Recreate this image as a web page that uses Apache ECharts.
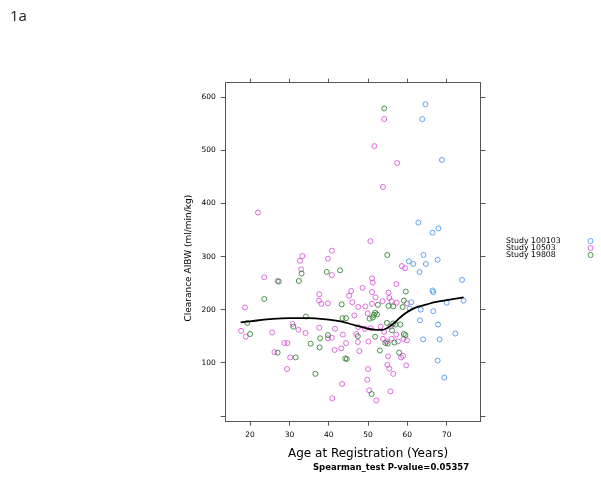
<!DOCTYPE html>
<html><head><meta charset="utf-8">
<script src="https://cdn.jsdelivr.net/npm/echarts@6/dist/echarts.min.js"></script>
<style>html,body{margin:0;padding:0;background:#fff}#c{width:601px;height:481px}</style>
</head><body><div id="c"></div>
<script>
// ---- data ----
const xTicks = [20, 30, 40, 50, 60, 70];
const yTicks = [0, 100, 200, 300, 400, 500, 600];
const yTickLabels = ['', '100', '200', '300', '400', '500', '600'];
const studyNames = ['Study 100103', 'Study 10503', 'Study 19808'];
const studyColors = ['#3b8ff0', '#d848d8', '#1f7a1f'];

// [age, clearance]
const study100103 = [
  [64.6,587],[63.8,559],[68.8,482],[62.8,364],[66.4,345],[67.9,353],[64.1,303],[60.4,291],
  [61.5,286],[64.7,286],[67.7,294],[63.1,271],[73.9,256],[66.4,236],[66.6,233],[61.0,214],
  [70.0,213],[74.3,217],[60.6,202],[63.4,200],[66.6,197],[63.2,180],[67.8,172],[72.2,155],
  [64.0,144],[68.2,144],[67.7,104],[69.4,72]
];
const study10503 = [
  [54.1,559],[51.6,508],[57.4,476],[53.8,431],[22.0,383],
  [50.6,329],[40.8,311],[33.3,301],[32.7,292],[39.8,296],[33.0,276],[23.6,261],[27.0,254],
  [58.6,282],[59.4,278],[40.8,265],[51.0,259],[51.2,251],[57.2,248],[48.6,241],[45.7,235],
  [51.0,233],[55.2,232],[37.6,229],[45.2,226],[51.9,223],[55.4,222],[37.5,217],[53.7,216],
  [56.0,216],[46.0,214],[39.8,212],[38.1,211],[51.0,211],[57.3,213],[59.9,212],[18.7,204],
  [47.5,205],[49.3,206],
  [49.9,193],[46.5,189],[41.6,164],[47.5,167],[49.2,164],[50.7,165],[53.2,168],[55.7,168],
  [54.1,158],[57.2,153],[43.6,153],[47.0,154],[40.8,147],[53.8,145],[54.7,140],[56.0,145],
  [57.6,140],[59.0,145],[59.9,142],[44.4,137],[47.4,139],[50.1,140],[41.5,124],[43.2,127],
  [47.8,122],[55.1,112],[58.4,110],[58.9,113],[54.9,96],[55.4,89],[59.7,95],[50.0,88],
  [56.4,79],[55.7,46],[52.1,29],[49.8,68],[43.4,60],[40.9,33],[50.3,48],
  [17.7,160],[18.9,149],[25.6,157],[26.2,120],[28.7,137],[29.5,137],[30.2,110],[29.4,88],
  [30.8,173],[32.3,162],[34.1,156],[37.6,166],[39.8,146]
];
const study19808 = [
  [54.1,579],[54.9,303],[42.9,274],[39.5,271],[33.1,268],[27.3,253],[32.4,254],[23.6,220],
  [59.6,234],[59.1,217],[43.3,210],[52.5,209],[55.2,207],[56.4,206],[58.8,205],[51.8,194],
  [51.5,190],[52.3,191],[43.5,184],[44.4,184],[50.4,183],[51.2,185],[54.8,175],[56.4,174],
  [57.0,172],[58.2,172],[56.1,161],[59.1,154],[59.5,152],[47.4,150],[51.8,149],[54.4,137],
  [55.0,136],[56.7,138],[53.0,123],[57.9,119],[44.2,108],[44.6,107],[50.9,41],[19.3,175],
  [20.0,154],[27.0,119],[31.6,110],[31.0,168],[34.2,187],[35.4,136],[37.8,146],[37.7,129],
  [36.6,79],[39.8,152]
];
const loessAge = [17.6,20,25,30,35,40,43,46,48,50,52,53.5,55,56.5,58,59.5,61,63,65,67,70,74.3];
const loessClearance = [176,178,182,184,184,181,178,172,168,164,162,162,166,174,184,193,200,206,210,214,218,223];

const titleText = '1a';
const xAxisTitle = 'Age at Registration (Years)';
const yAxisTitle = 'Clearance AIBW (ml/min/kg)';
const testText = 'Spearman_test P-value=0.05357';

// ---- chart ----
const FONT = 'DejaVu Sans';
const AX = '#555';
const xMin = 13.8, xMax = 78.6, yMin = -11.1, yMax = 627.5;

function xAxisDef(pos, showLabels) {
  return {
    type: 'value', position: pos, min: xMin, max: xMax,
    splitLine: { show: false },
    axisLine: { show: true, onZero: false, lineStyle: { color: AX, width: 1 } },
    axisTick: { show: true, length: 4, customValues: xTicks, lineStyle: { color: AX } },
    axisLabel: { show: showLabels, customValues: xTicks, fontFamily: FONT, fontSize: 7.5, color: '#000', margin: 9 }
  };
}
function yAxisDef(pos, showLabels) {
  const d = {
    type: 'value', position: pos, min: yMin, max: yMax,
    splitLine: { show: false },
    axisLine: { show: true, onZero: false, lineStyle: { color: AX, width: 1 } },
    axisTick: { show: true, length: 5, customValues: yTicks, lineStyle: { color: AX } },
    axisLabel: { show: showLabels, customValues: yTicks, fontFamily: FONT, fontSize: 7.5, color: '#000', margin: 10,
      formatter: v => yTickLabels[yTicks.indexOf(v)] }
  };
  if (showLabels) {
    d.name = yAxisTitle; d.nameLocation = 'middle'; d.nameGap = 33; d.nameRotate = 90;
    d.nameTextStyle = { fontFamily: FONT, fontSize: 9, color: '#000', padding: [0, 12, 0, 0] };
  }
  return d;
}

const datasets = [study100103, study10503, study19808];
const series = datasets.map((d, i) => ({
  name: studyNames[i], type: 'scatter', xAxisIndex: 0, yAxisIndex: 0,
  data: d, symbol: 'circle', symbolSize: 5,
  itemStyle: { color: 'rgba(0,0,0,0)', borderColor: studyColors[i], borderWidth: 1 },
  emphasis: { disabled: true }
}));
series.push({
  name: 'loess', type: 'line', xAxisIndex: 0, yAxisIndex: 0,
  data: loessAge.map((a, i) => [a, loessClearance[i]]),
  smooth: 0.4, showSymbol: false, symbol: 'none',
  lineStyle: { color: '#000', width: 1.8 }, z: 5
});

const chart = echarts.init(document.getElementById('c'), null, { renderer: 'canvas' });
chart.setOption({
  animation: false,
  backgroundColor: '#fff',
  textStyle: { fontFamily: FONT },
  title: [
    { text: titleText, left: 5, top: 4, textStyle: { fontFamily: 'Open Sans', fontSize: 15, fontWeight: 'normal', color: '#222' } },
    { text: xAxisTitle, left: 283, top: 443, textStyle: { fontFamily: FONT, fontSize: 12, fontWeight: 'normal', color: '#000' } },
    { text: testText, left: 308, top: 458, textStyle: { fontFamily: FONT, fontSize: 8.5, fontWeight: 'bold', color: '#000' } }
  ],
  grid: { left: 225.7, right: 120.5, top: 82.7, bottom: 59.3, containLabel: false },
  xAxis: [xAxisDef('bottom', true), xAxisDef('top', false)],
  yAxis: [yAxisDef('left', true), yAxisDef('right', false)],
  legend: {
    orient: 'vertical', left: 506, top: 237, itemGap: -1, align: 'right',
    itemWidth: 5, itemHeight: 5, padding: 0,
    data: studyNames.map((n, i) => ({ name: n, icon: 'circle',
      itemStyle: { color: 'rgba(0,0,0,0)', borderColor: studyColors[i], borderWidth: 1 } })),
    formatter: n => '{n|' + n + '}',
    textStyle: { fontFamily: FONT, fontSize: 7.8, color: '#000', lineHeight: 7,
      rich: { n: { width: 77, align: 'left', fontFamily: FONT, fontSize: 7.8, lineHeight: 7 } } },
    selectedMode: false
  },
  series: series
});
</script>
</body></html>
